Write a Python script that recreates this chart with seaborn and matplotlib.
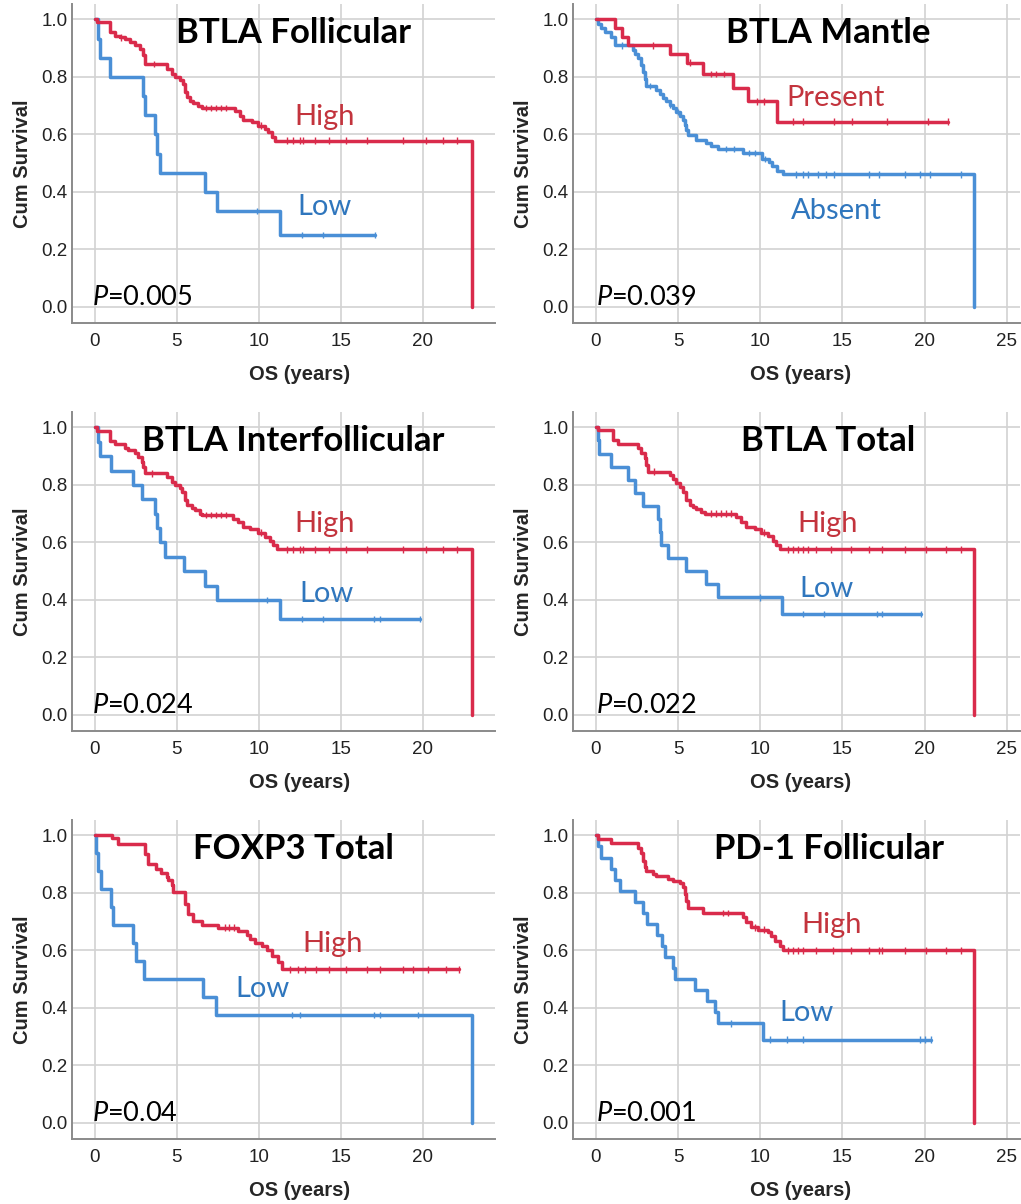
import numpy as np
import pandas as pd
import matplotlib
matplotlib.use("Agg")
import matplotlib.pyplot as plt
from matplotlib.ticker import FormatStrFormatter
import seaborn as sns

# Kaplan-Meier step curves: time (years), cum survival
# BTLA Follicular
fol_high_t = [0, 0.1, 0.91, 1.22, 1.52, 1.83, 2.13, 2.44, 2.74, 2.95, 3.05, 4.37, 4.67, 4.88, 5.18, 5.39,
              5.49, 5.59, 5.79, 6.0, 6.3, 6.5, 8.54, 8.84, 9.04, 9.55, 9.96, 10.37, 10.57, 10.77, 10.98, 23.0]
fol_high_s = [1.0, 0.991, 0.956, 0.944, 0.938, 0.932, 0.921, 0.910, 0.898, 0.875, 0.846, 0.828, 0.811, 0.799,
              0.788, 0.776, 0.747, 0.730, 0.718, 0.710, 0.700, 0.692, 0.681, 0.666, 0.649, 0.643, 0.631, 0.619,
              0.608, 0.590, 0.579, 0.0]
fol_high_cens = [1.6, 3.6, 6.8, 7.1, 7.4, 7.7, 8.0, 10.1, 11.7, 12.1, 12.5, 12.7, 13.4, 14.3, 15.3, 16.6,
                 18.8, 20.2, 21.2, 22.05]
fol_low_t = [0, 0.2, 0.3, 0.91, 2.95, 3.05, 3.66, 3.78, 3.95, 6.7, 7.42, 11.3, 17.1]
fol_low_s = [1.0, 0.933, 0.867, 0.8, 0.733, 0.667, 0.6, 0.533, 0.467, 0.4, 0.333, 0.25, 0.25]
fol_low_cens = [9.9, 12.6, 13.9, 17.1]

# BTLA Mantle
man_pres_t = [0, 1.16, 1.56, 1.97, 4.5, 5.52, 6.53, 8.36, 9.27, 11.0, 21.4]
man_pres_s = [1.0, 0.97, 0.94, 0.91, 0.88, 0.85, 0.81, 0.76, 0.715, 0.645, 0.645]
man_pres_cens = [3.45, 5.72, 7.0, 7.3, 7.8, 9.77, 10.2, 12.0, 12.6, 14.5, 15.6, 17.7, 20.2, 21.4]
man_abs_t = [0, 0.12, 0.32, 0.53, 0.93, 1.14, 2.25, 2.35, 2.56, 2.76, 2.86, 2.96, 3.06, 3.67, 3.88, 4.08,
             4.28, 4.48, 4.69, 4.89, 5.09, 5.29, 5.4, 5.5, 5.6, 6.11, 6.72, 7.02, 7.43, 8.95, 10.1, 10.5,
             10.7, 11.0, 11.4, 23.03]
man_abs_s = [1.0, 0.985, 0.97, 0.955, 0.94, 0.91, 0.895, 0.88, 0.865, 0.84, 0.816, 0.793, 0.768, 0.756,
             0.741, 0.726, 0.716, 0.704, 0.693, 0.678, 0.666, 0.652, 0.633, 0.614, 0.597, 0.582, 0.57, 0.559,
             0.55, 0.536, 0.515, 0.504, 0.49, 0.474, 0.461, 0.0]
man_abs_cens = [1.6, 3.3, 4.5, 5.0, 7.9, 8.4, 9.3, 9.7, 10.3, 12.2, 12.6, 12.9, 13.5, 14.0, 14.5, 16.6,
                17.2, 18.8, 19.7, 20.3, 22.2]

# BTLA Interfollicular
int_high_t = [0, 0.1, 0.91, 1.22, 1.83, 2.03, 2.44, 2.64, 2.85, 2.95, 3.05, 4.37, 4.67, 4.88, 5.18, 5.28,
              5.49, 5.59, 5.89, 6.1, 6.4, 6.5, 8.44, 8.74, 9.04, 9.45, 9.96, 10.37, 10.67, 10.87, 11.08, 23.0]
int_high_s = [1.0, 0.988, 0.953, 0.942, 0.93, 0.921, 0.912, 0.898, 0.88, 0.863, 0.84, 0.826, 0.811, 0.80,
              0.788, 0.776, 0.747, 0.73, 0.718, 0.712, 0.70, 0.695, 0.683, 0.67, 0.652, 0.645, 0.634, 0.62,
              0.606, 0.591, 0.576, 0.0]
int_high_cens = [3.5, 6.8, 7.1, 7.4, 7.7, 8.0, 10.1, 11.7, 12.1, 12.5, 12.7, 13.4, 14.3, 15.3, 16.6, 18.8,
                 20.2, 21.2, 22.05]
int_low_t = [0, 0.2, 0.3, 0.98, 2.34, 2.85, 3.66, 3.78, 3.95, 4.27, 5.45, 6.71, 7.42, 11.28, 19.8]
int_low_s = [1.0, 0.95, 0.9, 0.85, 0.8, 0.75, 0.7, 0.65, 0.6, 0.55, 0.5, 0.45, 0.4, 0.333, 0.333]
int_low_cens = [10.47, 12.6, 13.9, 17.0, 17.4, 19.8]

# BTLA Total
tot_high_t = [0, 0.12, 1.03, 1.34, 2.56, 2.76, 2.96, 3.06, 3.17, 4.48, 4.69, 4.89, 5.09, 5.29, 5.5, 5.7,
              5.9, 6.11, 6.41, 6.61, 8.54, 8.85, 9.15, 9.66, 10.06, 10.47, 10.77, 10.98, 11.18, 23.03]
tot_high_s = [1.0, 0.99, 0.956, 0.942, 0.927, 0.912, 0.892, 0.869, 0.846, 0.834, 0.819, 0.805, 0.791, 0.776,
              0.747, 0.73, 0.722, 0.715, 0.707, 0.70, 0.687, 0.672, 0.652, 0.645, 0.634, 0.622, 0.606, 0.591,
              0.576, 0.0]
tot_high_cens = [3.5, 7.0, 7.3, 7.6, 7.9, 8.2, 10.2, 11.7, 12.0, 12.3, 12.6, 12.9, 13.4, 14.3, 15.5, 16.6,
                 17.4, 18.8, 20.1, 21.3, 22.2]
tot_low_t = [0, 0.1, 0.2, 0.93, 1.95, 2.35, 2.86, 3.78, 3.88, 3.98, 4.38, 5.5, 6.72, 7.43, 11.3, 19.8]
tot_low_s = [1.0, 0.955, 0.909, 0.864, 0.818, 0.773, 0.727, 0.682, 0.636, 0.591, 0.545, 0.5, 0.455, 0.409,
             0.351, 0.351]
tot_low_cens = [9.98, 12.6, 13.9, 17.1, 17.4, 19.8]

# FOXP3 Total
fox_high_t = [0, 1.02, 1.42, 3.04, 3.24, 3.75, 4.05, 4.37, 4.47, 4.67, 4.78, 5.49, 5.69, 5.99, 6.5, 7.52,
              8.74, 9.25, 9.45, 9.76, 10.16, 10.47, 10.77, 11.18, 11.39, 22.2]
fox_high_s = [1.0, 0.99, 0.971, 0.934, 0.899, 0.884, 0.868, 0.857, 0.845, 0.829, 0.804, 0.76, 0.725, 0.704,
              0.69, 0.679, 0.669, 0.655, 0.638, 0.627, 0.615, 0.60, 0.58, 0.56, 0.534, 0.534]
fox_high_cens = [7.9, 8.2, 8.5, 11.9, 12.4, 12.8, 13.5, 14.3, 15.3, 16.6, 17.4, 18.8, 19.4, 20.3, 21.4, 22.2]
fox_low_t = [0, 0.05, 0.2, 0.35, 0.96, 1.1, 2.3, 2.5, 2.97, 6.6, 7.4, 23.0]
fox_low_s = [1.0, 0.9375, 0.875, 0.8125, 0.75, 0.6875, 0.625, 0.5625, 0.5, 0.4375, 0.375, 0.0]
fox_low_cens = [12.0, 12.5, 17.0, 17.4, 19.7]

# PD-1 Follicular
pd1_high_t = [0, 0.1, 0.93, 2.56, 2.76, 2.86, 2.96, 3.06, 3.47, 3.67, 4.38, 4.69, 5.09, 5.29, 5.4, 5.5,
              5.6, 6.51, 8.95, 9.15, 9.45, 9.86, 10.47, 10.67, 10.87, 11.18, 11.38, 23.03]
pd1_high_s = [1.0, 0.986, 0.972, 0.958, 0.94, 0.91, 0.889, 0.875, 0.866, 0.858, 0.85, 0.842, 0.836, 0.819,
              0.796, 0.773, 0.746, 0.731, 0.715, 0.698, 0.68, 0.672, 0.664, 0.65, 0.633, 0.616, 0.60, 0.0]
pd1_high_cens = [7.75, 8.05, 9.68, 10.2, 11.7, 12.0, 12.3, 12.6, 13.4, 14.4, 15.5, 16.6, 17.2, 17.4, 18.8,
                 20.1, 21.3, 22.2]
pd1_low_t = [0, 0.15, 0.3, 0.93, 1.14, 1.44, 2.37, 2.88, 3.08, 3.69, 4.0, 4.2, 4.71, 4.81, 6.03, 6.74,
             7.24, 7.45, 10.18, 20.4]
pd1_low_s = [1.0, 0.962, 0.923, 0.885, 0.846, 0.808, 0.769, 0.731, 0.692, 0.654, 0.615, 0.577, 0.538, 0.5,
             0.462, 0.423, 0.385, 0.346, 0.29, 0.29]
pd1_low_cens = [8.2, 10.6, 11.6, 12.6, 19.7, 20.0, 20.4]

titles = ["BTLA Follicular", "BTLA Mantle", "BTLA Interfollicular", "BTLA Total", "FOXP3 Total", "PD-1 Follicular"]
p_values = ["0.005", "0.039", "0.024", "0.022", "0.04", "0.001"]

RED, BLUE = "#d92b4b", "#4a8fd6"
RED_TXT, BLUE_TXT = "#c3343d", "#2f76bd"

# (low curve, high curve, label names, label positions)
panels = [
    ((fol_low_t, fol_low_s, fol_low_cens), (fol_high_t, fol_high_s, fol_high_cens),
     ("Low", "High"), ((14.0, 0.319), (14.0, 0.632))),
    ((man_abs_t, man_abs_s, man_abs_cens), (man_pres_t, man_pres_s, man_pres_cens),
     ("Absent", "Present"), ((14.6, 0.306), (14.6, 0.698))),
    ((int_low_t, int_low_s, int_low_cens), (int_high_t, int_high_s, int_high_cens),
     ("Low", "High"), ((14.1, 0.394), (14.0, 0.637))),
    ((tot_low_t, tot_low_s, tot_low_cens), (tot_high_t, tot_high_s, tot_high_cens),
     ("Low", "High"), ((14.05, 0.411), (14.1, 0.637))),
    ((fox_low_t, fox_low_s, fox_low_cens), (fox_high_t, fox_high_s, fox_high_cens),
     ("Low", "High"), ((10.2, 0.437), (14.5, 0.595))),
    ((pd1_low_t, pd1_low_s, pd1_low_cens), (pd1_high_t, pd1_high_s, pd1_high_cens),
     ("Low", "High"), ((12.8, 0.356), (14.35, 0.661))),
]

sns.set_style("whitegrid")
plt.rcParams["font.family"] = ["Liberation Sans", "DejaVu Sans"]
plt.rcParams["mathtext.fontset"] = "custom"
plt.rcParams["mathtext.it"] = "Lato:italic"
plt.rcParams["mathtext.rm"] = "Lato"

fig = plt.figure(figsize=(10.21, 12.04), dpi=100)
col_left = [0.0705, 0.5612]
col_width = [0.4143, 0.4378]
row_bottom = [0.7317, 0.3929, 0.054]
row_h = 0.265
xmax = [24.39, 25.8]


def step_at(t, s, x):
    idx = np.searchsorted(t, x, side="right") - 1
    return np.asarray(s)[idx]


for i, (low, high, names, pos) in enumerate(panels):
    r, c = divmod(i, 2)
    ax = fig.add_axes([col_left[c], row_bottom[r], col_width[c], row_h])

    curves = pd.concat([
        pd.DataFrame({"time": low[0], "surv": low[1], "group": names[0]}),
        pd.DataFrame({"time": high[0], "surv": high[1], "group": names[1]}),
    ])
    cens = pd.concat([
        pd.DataFrame({"time": low[2], "surv": step_at(low[0], low[1], low[2]), "group": names[0]}),
        pd.DataFrame({"time": high[2], "surv": step_at(high[0], high[1], high[2]), "group": names[1]}),
    ])
    pal = {names[0]: BLUE, names[1]: RED}

    sns.lineplot(data=curves, x="time", y="surv", hue="group", palette=pal, estimator=None,
                 sort=False, drawstyle="steps-post", lw=2.5, legend=False, ax=ax)
    sns.scatterplot(data=cens, x="time", y="surv", hue="group", palette=pal, marker="|",
                    s=22, linewidth=1.0, legend=False, ax=ax, zorder=3)

    # ticks first, limits after (set_xticks would widen the view)
    ax.set_xticks([0, 5, 10, 15, 20, 25])
    ax.set_yticks([0, 0.2, 0.4, 0.6, 0.8, 1.0])
    ax.set_xlim(-1.4, xmax[c])
    ax.set_ylim(-0.056, 1.054)
    ax.yaxis.set_major_formatter(FormatStrFormatter("%.1f"))
    ax.tick_params(length=0, labelsize=13.5, labelcolor="#222222")
    ax.tick_params(axis="x", pad=7)
    ax.tick_params(axis="y", pad=3)
    ax.grid(True, color="#d2d2d2", lw=1.2)
    ax.set_axisbelow(True)
    for side in ["top", "right"]:
        ax.spines[side].set_visible(False)
    for side in ["left", "bottom"]:
        ax.spines[side].set_color("#8a8a8a")
        ax.spines[side].set_linewidth(1.4)

    ax.set_xlabel("OS (years)", fontsize=14.5, fontweight="bold")
    ax.set_ylabel("Cum Survival", fontsize=14.5, fontweight="bold")
    ax.xaxis.set_label_coords([0.537, 0.51][c], -0.133)
    ax.yaxis.set_label_coords([-0.094, -0.090][c], 0.5)

    ax.text([12.1, 14.15][c], 0.953, titles[i], fontsize=25, fontweight="bold", family="Lato",
            ha="center", va="center", color="black")
    ax.text(pos[0][0], pos[0][1], names[0], fontsize=21, family="Lato", color=BLUE_TXT,
            ha="center", va="baseline")
    ax.text(pos[1][0], pos[1][1], names[1], fontsize=21, family="Lato", color=RED_TXT,
            ha="center", va="baseline")
    ax.text(-0.15 if c == 0 else 0.0, 0.006, r"$P$=" + p_values[i], fontsize=19.5, family="Lato",
            ha="left", va="baseline", color="black")

fig.savefig("out.png", dpi=100, facecolor="white")
